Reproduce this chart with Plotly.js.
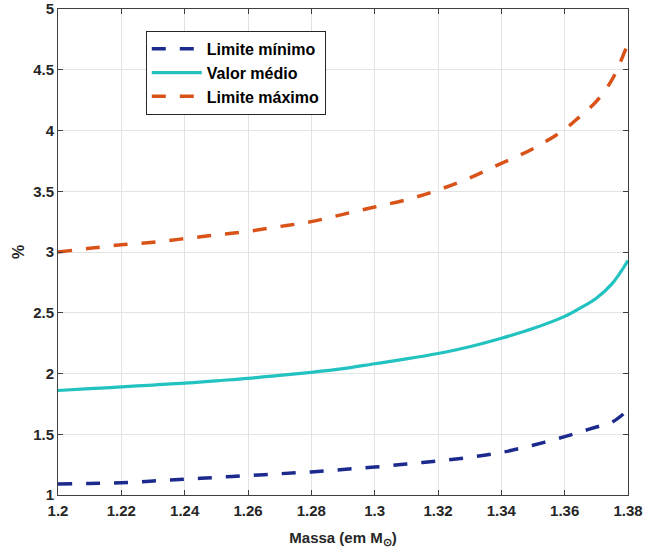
<!DOCTYPE html>
<html>
<head>
<meta charset="utf-8">
<script src="https://cdn.plot.ly/plotly-3.0.1.min.js"></script>
<style>html,body{margin:0;padding:0;background:#fff;}#chart{width:646px;height:556px;}</style>
</head>
<body>
<div id="chart"></div>
<script>
const massa = [1.20,1.21,1.22,1.23,1.24,1.25,1.26,1.27,1.28,1.29,1.30,1.31,1.32,1.33,1.34,1.35,1.36,1.365,1.37,1.375,1.38];
const limiteMinimo = [1.09,1.095,1.10,1.115,1.13,1.145,1.16,1.175,1.19,1.21,1.23,1.255,1.28,1.31,1.35,1.41,1.48,1.52,1.56,1.60,1.70];
const valorMedio = [1.86,1.875,1.89,1.905,1.92,1.94,1.96,1.985,2.01,2.04,2.08,2.12,2.165,2.22,2.29,2.37,2.47,2.54,2.62,2.74,2.93];
const limiteMaximo = [3.00,3.03,3.06,3.08,3.11,3.14,3.17,3.21,3.25,3.31,3.37,3.43,3.51,3.61,3.73,3.85,4.01,4.12,4.24,4.42,4.72];
const seriesNames = ['Limite mínimo','Valor médio','Limite máximo'];
const xTitle = 'Massa (em M<sub>⊙</sub>)';
const yTitle = '%';

const fam = 'Liberation Sans, Arial, sans-serif';
const traces = [
  {x:massa, y:limiteMinimo, name:seriesNames[0], mode:'lines', line:{color:'#1b2a8c', width:3.5, dash:'14px,14px', shape:'spline'}},
  {x:massa, y:valorMedio, name:seriesNames[1], mode:'lines', line:{color:'#22c2c0', width:3.2, shape:'spline'}},
  {x:massa, y:limiteMaximo, name:seriesNames[2], mode:'lines', line:{color:'#d95319', width:3.5, dash:'14px,14px', shape:'spline'}}
];
const axisCommon = {
  showline:true, linecolor:'#404040', linewidth:1, mirror:'ticks',
  ticks:'inside', ticklen:5, tickcolor:'#404040',
  showgrid:true, gridcolor:'#e3e3e3', gridwidth:1, zeroline:false,
  tickfont:{family:fam, size:15, color:'#262626', weight:'bold'}
};
const layout = {
  width:646, height:556,
  margin:{l:58, r:18, t:9, b:61},
  paper_bgcolor:'#fff', plot_bgcolor:'#fff',
  font:{family:fam, size:14, color:'#262626', weight:'bold'},
  showlegend:true,
  legend:{x:0.154, y:0.955, xanchor:'left', yanchor:'top', bgcolor:'#fff', bordercolor:'#262626', borderwidth:1,
          font:{family:fam, size:16, color:'#000', weight:'bold'}, itemwidth:50, tracegroupgap:0},
  xaxis:Object.assign({}, axisCommon, {range:[1.2,1.38], dtick:0.02, tick0:1.2, ticklabelstandoff:2,
          title:{text:xTitle, standoff:14, font:{family:fam, size:15, color:'#262626', weight:'bold'}}}),
  yaxis:Object.assign({}, axisCommon, {range:[1,5], dtick:0.5, tick0:1,
          title:{text:yTitle, standoff:4, font:{family:fam, size:16, color:'#262626', weight:'bold'}}})
};
Plotly.newPlot('chart', traces, layout, {displayModeBar:false, staticPlot:true});
</script>
</body>
</html>
